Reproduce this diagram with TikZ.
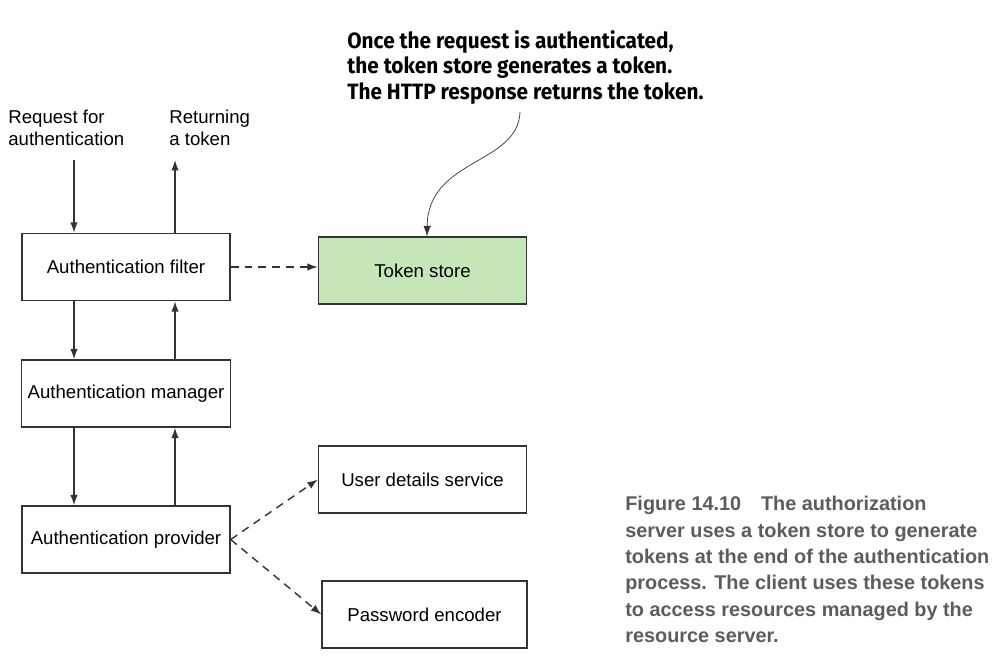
\documentclass[tikz,border=0pt]{standalone}
\usepackage{fontspec}
\setmainfont{Liberation Sans}
\newfontfamily\notefont[FakeStretch=0.94]{Fira Sans}
\newfontfamily\capfont{Liberation Sans}
\usepackage{tikz}
\usetikzlibrary{positioning}
\usetikzlibrary{arrows.meta}

\definecolor{storegreen}{HTML}{C6E6B8}
\definecolor{linegray}{HTML}{333333}
\definecolor{capgray}{HTML}{5C5C5C}

\tikzset{
	box/.style={draw=linegray, thick, minimum width=4.16cm, minimum height=1.34cm, font=\fontsize{10.6}{12.7}\selectfont},
	flow/.style={draw=linegray, thick, -{Latex[length=2.1mm,width=1.5mm]}},
	call/.style={flow, dash pattern=on 4.5pt off 3.4pt}
}

\begin{document}
\begin{tikzpicture}[x=0.02cm, y=-0.02cm]
				\useasboundingbox (0,0) rectangle (998,672);
				
				\node[box] (filter) at (126,267) {Authentication filter};
				\node[box, fill=storegreen] (store) at (422.5,270.5) {Token store};
				\node[box] (manager) at (126,393.5) {Authentication manager};
				\node[box] (provider) at (126,539.5) {Authentication provider};
				\node[box] (details) at (422.5,479.5) {User details service};
				\node[box, minimum width=4.1cm] (encoder) at (424.5,614.5) {Password encoder};
				
				\node[align=left, anchor=north west, inner sep=0pt, font=\fontsize{10.6}{12.2}\selectfont] (request) at (8,110) {Request for\\authentication};
				\node[align=left, anchor=north west, inner sep=0pt, font=\fontsize{10.6}{12.2}\selectfont] (returning) at (169,110) {Returning\\a token};
				\coordinate (reqend) at (74,160);
				\coordinate (retend) at (175,160);
				
				\node[align=left, anchor=north west, inner sep=0pt, font=\notefont\bfseries\fontsize{12.6}{14.6}\selectfont] (note) at (347,30) {Once the request is authenticated,\\the token store generates a token.\\The HTTP response returns the token.};
				\coordinate (notetail) at (520,112);
				
				\node[align=left, anchor=north west, inner sep=0pt, text=capgray, font=\capfont\bfseries\fontsize{11.3}{15}\selectfont] (caption) at (625,496) {Figure 14.10\quad The authorization\\server uses a token store to generate\\tokens at the end of the authentication\\process. The client uses these tokens\\to access resources managed by the\\resource server.};
				
				\draw[flow]  (reqend) -- (reqend |- filter.north);
				\draw[flow]  (retend |- filter.north) -- (retend);
				\draw[flow]  (reqend |- filter.south) -- (reqend |- manager.north);
				\draw[flow]  (retend |- manager.north) -- (retend |- filter.south);
				\draw[flow]  (reqend |- manager.south) -- (reqend |- provider.north);
				\draw[flow]  (retend |- provider.north) -- (retend |- manager.south);
				
				\draw[call]  (filter.east) -- (store.west |- filter.east);
				\draw[call]  (provider.east) -- (details.west);
				\draw[call]  (provider.east) -- (encoder.west);
				
				\draw[flow, thin]  (notetail) .. controls (518,165) and (428,158) .. (store.north -| 427,0);
			\end{tikzpicture}
\end{document}
